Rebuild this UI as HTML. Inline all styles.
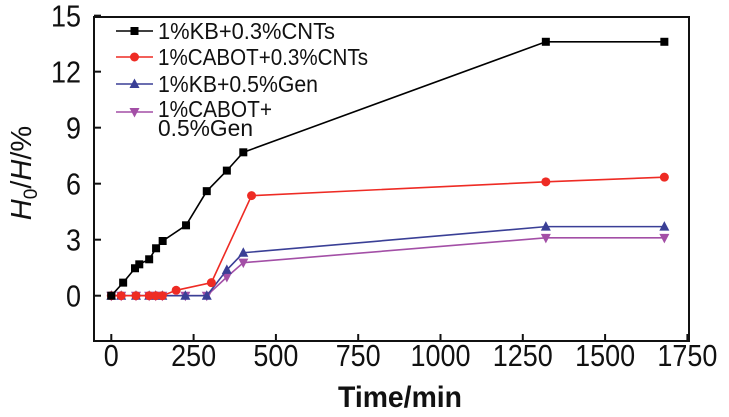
<!DOCTYPE html>
<html><head><meta charset="utf-8"><style>
html,body{margin:0;padding:0;background:#fff;}
svg{display:block;font-family:"Liberation Sans",Arial,sans-serif;}
</style></head><body>
<svg id="chart" width="729" height="417" viewBox="0 0 729 417"></svg>
<script>
const xTicks=[0,250,500,750,1000,1250,1500,1750];
const yTicks=[0,3,6,9,12,15];
const kbCntX=[0,36,72,85,115,136,156,227,290,351,401,1320,1680];
const kbCntY=[0,0.7,1.47,1.68,1.95,2.54,2.93,3.77,5.6,6.7,7.68,13.6,13.6];
const caCntX=[0,30,75,115,135,155,197,304,426,1320,1680];
const caCntY=[0,0,0,0,0,0,0.29,0.7,5.36,6.1,6.35];
const kbGenX=[0,30,75,115,135,155,225,290,351,401,1320,1680];
const kbGenY=[0,0,0,0,0,0,0,0,1.38,2.3,3.7,3.7];
const caGenX=[0,30,75,115,135,155,225,290,351,401,1320,1680];
const caGenY=[0,0,0,0,0,0,0,0,1.0,1.77,3.1,3.1];
const legendLabels=["1%KB+0.3%CNTs","1%CABOT+0.3%CNTs","1%KB+0.5%Gen","1%CABOT+"];

const NS="http://www.w3.org/2000/svg";
const svg=document.getElementById('chart');
function X(v){return 111.3+v*0.3292;}
function Y(v){return 295.7-v*18.67;}
function mk(t,a,p){const e=document.createElementNS(NS,t);for(const k in a)e.setAttribute(k,a[k]);(p||svg).appendChild(e);return e;}

const frame=mk('rect',{x:94,y:17,width:595,height:324,fill:'none',stroke:'#111','stroke-width':2});



xTicks.forEach(v=>{
  const t=mk('line',{x1:X(v),x2:X(v),y1:341,y2:334,stroke:'#111','stroke-width':2});
  
  
  const s=String(v);
  const l=mk('text',{x:X(v),y:366,'text-anchor':'middle','font-size':31,fill:'#111',textLength:s.length*15,lengthAdjust:'spacingAndGlyphs'});
  l.textContent=s;
  
  
});
yTicks.forEach(v=>{
  const t=mk('line',{x1:94,x2:101,y1:Y(v),y2:Y(v),stroke:'#111','stroke-width':2});
  
  
  const s=String(v);
  const l=mk('text',{x:81,y:Y(v)+11,'text-anchor':'end','font-size':31,fill:'#111',textLength:s.length*15,lengthAdjust:'spacingAndGlyphs'});
  l.textContent=s;
  
  
});

const xt=mk('text',{x:400,y:407,'text-anchor':'middle','font-size':30,'font-weight':'bold',fill:'#111',textLength:124,lengthAdjust:'spacingAndGlyphs'});
xt.textContent='Time/min';


const yt=mk('text',{x:0,y:0,'text-anchor':'middle','font-size':29,fill:'#111',transform:'translate(31,173) rotate(-90)'});
yt.innerHTML='<tspan font-style="italic">H</tspan><tspan font-size="19" dy="6">0</tspan><tspan dy="-6">/</tspan><tspan font-style="italic">H</tspan><tspan>/%</tspan>';



function marker(g,shape,x,y,c){
  let e;
  if(shape==='sq')e=mk('rect',{x:x-4,y:y-4,width:8,height:8,fill:c},g);
  else if(shape==='ci')e=mk('circle',{cx:x,cy:y,r:4.5,fill:c},g);
  else if(shape==='up')e=mk('polygon',{points:`${x},${y-5.5} ${x-5},${y+4} ${x+5},${y+4}`,fill:c},g);
  else e=mk('polygon',{points:`${x},${y+5.5} ${x-5},${y-4} ${x+5},${y-4}`,fill:c},g);
  
  
}
const series=[
  {xs:kbCntX,ys:kbCntY,c:'#000',s:'sq',n:'series-kb-cnts'},
  {xs:caCntX,ys:caCntY,c:'#ee2b24',s:'ci',n:'series-cabot-cnts'},
  {xs:kbGenX,ys:kbGenY,c:'#3a3f96',s:'up',n:'series-kb-gen'},
  {xs:caGenX,ys:caGenY,c:'#a34fa6',s:'dn',n:'series-cabot-gen'}
];
series.slice().reverse().forEach(sr=>{
  const g=mk('g',{});
  
  
  const pts=sr.xs.map((x,i)=>X(x)+','+Y(sr.ys[i])).join(' ');
  const pl=mk('polyline',{points:pts,fill:'none',stroke:sr.c,'stroke-width':1.6},g);
  
  
  sr.xs.forEach((x,i)=>marker(g,sr.s,X(x),Y(sr.ys[i]),sr.c));
});

const lg=mk('g',{});


const ly=[31,57,84,112];
const lw=[177,210,160,114];
series.forEach((sr,i)=>{
  const ln=mk('line',{x1:116,x2:153,y1:ly[i],y2:ly[i],stroke:sr.c,'stroke-width':1.6},lg);
  
  
  marker(lg,sr.s,134.5,ly[i],sr.c);
  const t=mk('text',{x:158,y:ly[i]+(i===3?5:8),'font-size':23,fill:'#111',textLength:lw[i],lengthAdjust:'spacingAndGlyphs'},lg);
  t.textContent=legendLabels[i];
  
  
});
const t2=mk('text',{x:158,y:136,'font-size':23,fill:'#111',textLength:95,lengthAdjust:'spacingAndGlyphs'},lg);
t2.textContent='0.5%Gen';


</script>
</body></html>
